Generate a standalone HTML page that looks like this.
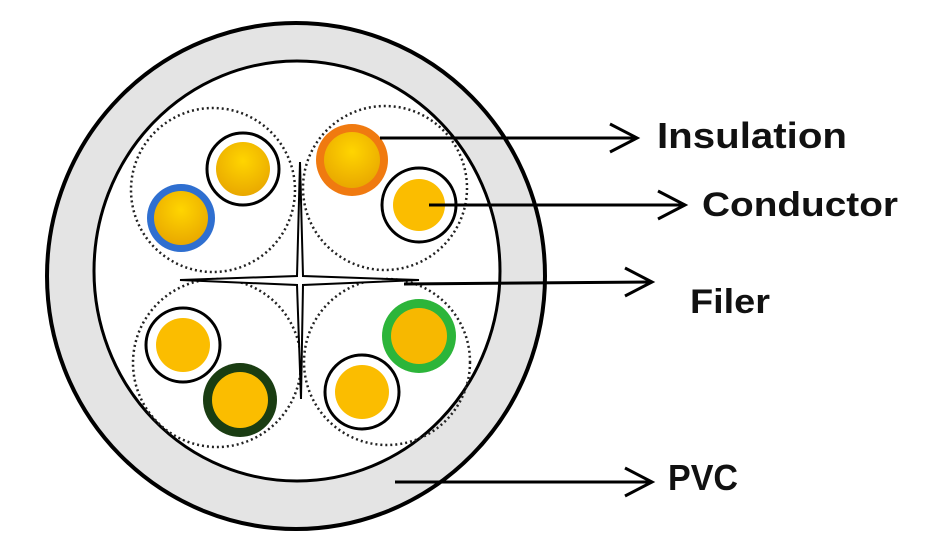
<!DOCTYPE html>
<html><head><meta charset="utf-8"><style>
html,body{margin:0;padding:0;background:#fff;}
svg{display:block;}
text{font-family:"Liberation Sans",sans-serif;font-weight:bold;fill:#111;}
</style></head><body>
<svg width="929" height="540" viewBox="0 0 929 540" xmlns="http://www.w3.org/2000/svg">
<defs>
<radialGradient id="y1" cx="50%" cy="35%" r="65%">
<stop offset="0" stop-color="#ffd500"/><stop offset="1" stop-color="#e9a800"/>
</radialGradient>
</defs>
<ellipse cx="296" cy="276" rx="249" ry="253" fill="#e4e4e4" stroke="#000" stroke-width="4"/>
<ellipse cx="297" cy="271" rx="203" ry="210" fill="#fff" stroke="#000" stroke-width="3"/>
<g fill="none" stroke="#222" stroke-width="2.5" stroke-dasharray="2 3">
<circle cx="213" cy="190" r="82"/>
<circle cx="385" cy="188" r="82"/>
<circle cx="217" cy="363" r="84"/>
<circle cx="387" cy="362" r="83"/>
</g>
<path d="M300 162 L303 276 L419 280 L303 285 L301 399 L297 285 L180 280 L297 276 Z" fill="#fff" stroke="#000" stroke-width="2"/>
<circle cx="243" cy="169" r="36" fill="#fff" stroke="#000" stroke-width="3"/>
<circle cx="243" cy="169" r="27" fill="url(#y1)"/>
<circle cx="181" cy="218" r="34" fill="#2f6fd0"/>
<circle cx="181" cy="218" r="27" fill="url(#y1)"/>
<circle cx="352" cy="160" r="36" fill="#f07a10"/>
<circle cx="352" cy="160" r="28" fill="url(#y1)"/>
<circle cx="419" cy="205" r="37" fill="#fff" stroke="#000" stroke-width="3"/>
<circle cx="419" cy="205" r="26" fill="#fbbd00"/>
<circle cx="183" cy="345" r="37" fill="#fff" stroke="#000" stroke-width="3"/>
<circle cx="183" cy="345" r="27" fill="#fbbd00"/>
<circle cx="240" cy="400" r="37" fill="#1a3d12"/>
<circle cx="240" cy="400" r="28" fill="#fbbd00"/>
<circle cx="419" cy="336" r="37" fill="#2cb53a"/>
<circle cx="419" cy="336" r="28" fill="#f7b800"/>
<circle cx="362" cy="392" r="37" fill="#fff" stroke="#000" stroke-width="3"/>
<circle cx="362" cy="392" r="27" fill="#fbbd00"/>
<g stroke="#000" stroke-width="3" fill="none">
<line x1="380" y1="138" x2="636" y2="138"/>
<polyline points="610,124 637,138 610,152"/>
<line x1="429" y1="205" x2="684" y2="205"/>
<polyline points="658,191 685,205 658,219"/>
<line x1="404" y1="284" x2="651" y2="282"/>
<polyline points="625,268 652,282 625,296"/>
<line x1="395" y1="482" x2="651" y2="482"/>
<polyline points="625,468 652,482 625,496"/>
</g>
<text x="657" y="148" font-size="36" textLength="190" lengthAdjust="spacingAndGlyphs">Insulation</text>
<text x="702" y="216" font-size="34" textLength="196" lengthAdjust="spacingAndGlyphs">Conductor</text>
<text x="690" y="313" font-size="34" textLength="80" lengthAdjust="spacingAndGlyphs">Filer</text>
<text x="668" y="490" font-size="36" textLength="70" lengthAdjust="spacingAndGlyphs">PVC</text>
</svg>
</body></html>
